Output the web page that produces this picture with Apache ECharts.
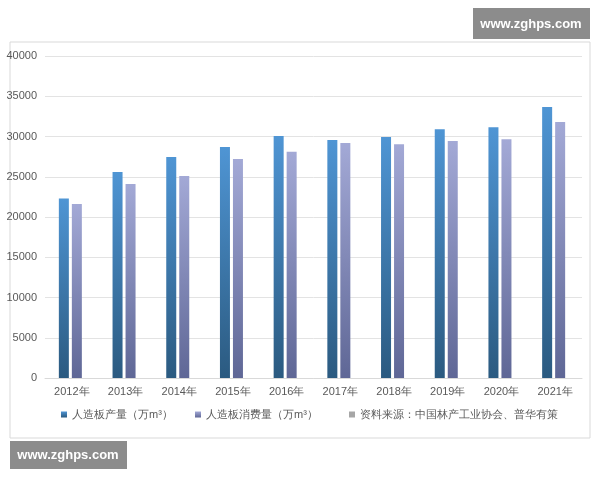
<!DOCTYPE html><html><head><meta charset="utf-8"><script src="https://cdn.jsdelivr.net/npm/echarts@6/dist/echarts.min.js"></script></head><body style="margin:0;background:#fff"><div id="c" style="width:600px;height:480px"></div><script>
const years=['2012年','2013年','2014年','2015年','2016年','2017年','2018年','2019年','2020年','2021年'];
const production=[22300,25600,27450,28700,30050,29550,29950,30900,31150,33650];
const consumption=[21600,24100,25100,27200,28100,29200,29050,29450,29650,31800];
const yTicks=[0,5000,10000,15000,20000,25000,30000,35000,40000];
const names=['人造板产量（万m³）','人造板消费量（万m³）','资料来源：中国林产工业协会、普华有策'];
const c=echarts.init(document.getElementById('c'));
const g=(a,b)=>new echarts.graphic.LinearGradient(0,0,0,1,[{offset:0,color:a},{offset:1,color:b}]);
const lg=(n,x)=>({top:404,left:x,itemWidth:6,itemHeight:6,icon:'rect',textStyle:{color:'#595959',fontSize:11},data:[n]});
c.setOption({
 graphic:[
  {type:'rect',shape:{x:10,y:42,width:580,height:396},style:{fill:'none',stroke:'#d9d9d9',lineWidth:1}},
  {type:'rect',shape:{x:473,y:8,width:117,height:31},style:{fill:'#8c8c8c'}},
  {type:'text',x:531,y:24,style:{text:'www.zghps.com',fill:'#fff',font:'bold 13px sans-serif',align:'center',verticalAlign:'middle'}},
  {type:'rect',shape:{x:10,y:441,width:117,height:28},style:{fill:'#8c8c8c'}},
  {type:'text',x:68,y:455,style:{text:'www.zghps.com',fill:'#fff',font:'bold 13px sans-serif',align:'center',verticalAlign:'middle'}}
 ],
 grid:{left:45,right:18,top:56,bottom:102},
 legend:[lg(names[0],56),lg(names[1],190),lg(names[2],344)],
 xAxis:{type:'category',data:years,axisTick:{show:false},axisLine:{lineStyle:{color:'#d9d9d9'}},axisLabel:{color:'#595959',fontSize:11}},
 yAxis:{type:'value',min:0,max:40000,interval:5000,axisLabel:{color:'#595959',fontSize:11,formatter:v=>String(v)},splitLine:{lineStyle:{color:'#e3e3e3'}}},
 series:[
  {name:names[0],type:'bar',data:production,barWidth:10,barGap:'30%',itemStyle:{color:g('#4f95d4','#2b5a80')}},
  {name:names[1],type:'bar',data:consumption,barWidth:10,itemStyle:{color:g('#a3a9d6','#5f6796')}},
  {name:names[2],type:'bar',data:[],itemStyle:{color:'#a6a6a6'}}
 ]
});
</script></body></html>
